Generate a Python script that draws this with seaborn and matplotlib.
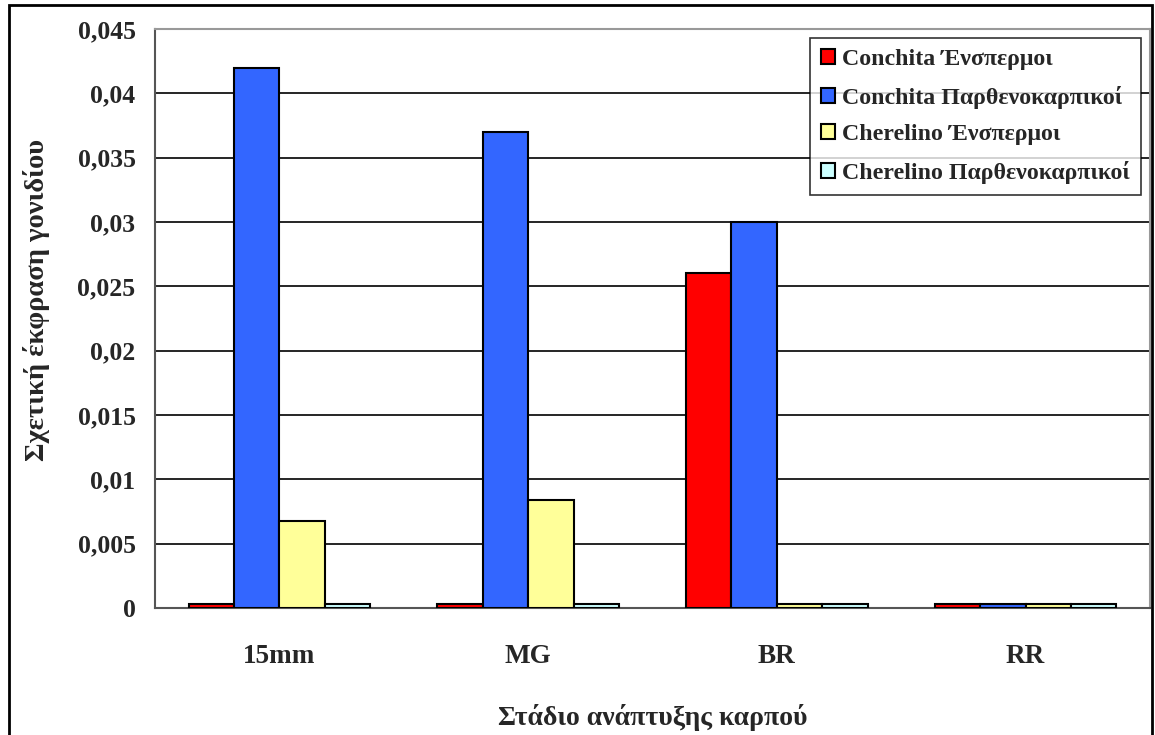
import matplotlib
matplotlib.use("Agg")
import matplotlib.pyplot as plt
import seaborn as sns
import pandas as pd
from matplotlib.patches import Rectangle
from matplotlib.ticker import FixedLocator, FixedFormatter

stages = ["15mm", "MG", "BR", "RR"]
series = ["Conchita Ένσπερμοι", "Conchita Παρθενοκαρπικοί",
          "Cherelino Ένσπερμοι", "Cherelino Παρθενοκαρπικοί"]
conchita_seeded = [0.0003, 0.0003, 0.026, 0.0003]
conchita_parth = [0.042, 0.037, 0.030, 0.0003]
cherelino_seeded = [0.0068, 0.0084, 0.0003, 0.0003]
cherelino_parth = [0.0003, 0.0003, 0.0003, 0.0003]
colors = ["#FF0000", "#3366FF", "#FFFF99", "#CCFFFF"]
ytick_values = [0, 0.005, 0.01, 0.015, 0.02, 0.025, 0.03, 0.035, 0.04, 0.045]
ytick_labels = ["0", "0,005", "0,01", "0,015", "0,02", "0,025", "0,03", "0,035", "0,04", "0,045"]
xlabel = "Στάδιο ανάπτυξης καρπού"
ylabel = "Σχετική έκφραση γονιδίου"

rows = []
for name, vals in zip(series, [conchita_seeded, conchita_parth, cherelino_seeded, cherelino_parth]):
    for st, v in zip(stages, vals):
        rows.append({"stage": st, "series": name, "value": v})
df = pd.DataFrame(rows)

sns.set_style("white")
plt.rcParams["font.family"] = ["Liberation Serif", "DejaVu Serif"]
plt.rcParams["font.weight"] = "bold"

W, H = 1155, 735
fig = plt.figure(figsize=(W / 100, H / 100), dpi=100)
ax = fig.add_axes([155 / W, 1 - 608 / H, (1150 - 155) / W, (608 - 29) / H])

sns.barplot(data=df, x="stage", y="value", hue="series", order=stages, hue_order=series,
            palette=colors, width=0.73, gap=0, edgecolor="black", linewidth=1.5,
            saturation=1, errorbar=None, ax=ax, zorder=3)

ax.set_xlim(-0.5, 3.5)
ax.set_ylim(0, 0.045)
ax.yaxis.set_major_locator(FixedLocator(ytick_values))
ax.yaxis.set_major_formatter(FixedFormatter(ytick_labels))
ax.grid(axis="y", color="black", linewidth=1.2, zorder=0)
ax.set_axisbelow(True)

ax.set_xticks([0, 1, 2, 3])
ax.set_xticklabels(stages)
ax.set_xticks([-0.5, 0.5, 1.5, 2.5, 3.5], minor=True)
ax.tick_params(axis="x", which="major", length=0, pad=26, labelsize=19.5)
ax.tick_params(axis="x", which="minor", length=8, width=1.5, color="#555555", direction="out")
ax.tick_params(axis="y", length=8, width=1.5, color="#555555", direction="out", pad=6, labelsize=18.5)
for lab in ax.get_xticklabels() + ax.get_yticklabels():
    lab.set_fontweight("bold")

for side in ["left", "bottom"]:
    ax.spines[side].set_color("#555555")
    ax.spines[side].set_linewidth(1.5)
for side in ["top", "right"]:
    ax.spines[side].set_color("#999999")
    ax.spines[side].set_linewidth(1.5)
    ax.spines[side].set_visible(True)

ax.set_xlabel(xlabel, fontsize=20, fontweight="bold")
ax.set_ylabel(ylabel, fontsize=20.5, fontweight="bold")
ax.xaxis.set_label_coords(0.5, -(704 - 608) / (608 - 29))
ax.yaxis.set_label_coords(-(155 - 50) / (1150 - 155), (608 - 300) / (608 - 29))

leg = ax.legend(loc="upper right", bbox_to_anchor=((1141 - 155) / (1150 - 155), 1 - 9 / (608 - 29)),
                frameon=True, fancybox=False, shadow=False, edgecolor="black",
                prop={"weight": "bold", "size": 17.2}, handlelength=0.6, handleheight=0.6,
                handletextpad=0.3, labelspacing=0.66, borderpad=0.45, borderaxespad=0)
leg.get_frame().set_linewidth(1.2)
for h in leg.legend_handles:
    h.set_edgecolor("black")
    h.set_linewidth(1.5)

fig.patches.append(Rectangle((9 / W, -0.01), (1152 - 9) / W, 1 - 5 / H + 0.01,
                             transform=fig.transFigure, fill=False, edgecolor="black",
                             linewidth=2))

fig.savefig("out.png", dpi=100, facecolor="white")
